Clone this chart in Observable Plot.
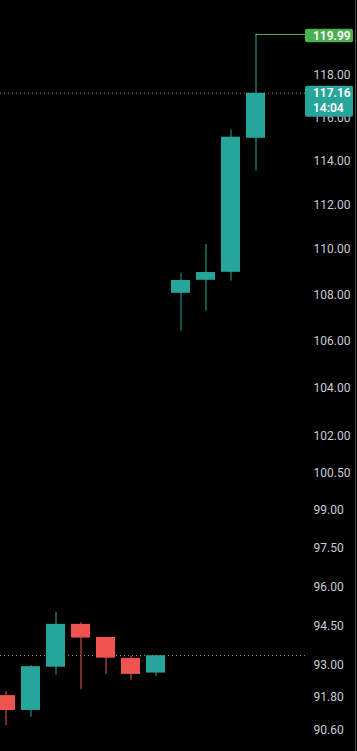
<!DOCTYPE html>
<html><head><meta charset="utf-8">
<script src="https://cdn.jsdelivr.net/npm/d3@7"></script>
<script src="https://cdn.jsdelivr.net/npm/@observablehq/plot@0.6"></script>
<style>
html,body{margin:0;padding:0;background:#000;}
#chart{width:357px;height:751px;overflow:hidden;background:#000;}
</style>
</head><body><div id="chart"></div>
<script>
// Candle data (bar index, OHLC)
const barIndex = [0, 1, 2, 3, 4, 5, 6, 7, 8, 9, 10];
const opens  = [91.87, 91.32, 92.93, 94.55, 94.05, 93.26, 92.71, 108.07, 108.64, 108.99, 115.05];
const highs  = [92.02, 92.99, 95.01, 94.62, 94.05, 93.34, 93.37, 108.95, 110.22, 115.44, 119.99];
const lows   = [90.76, 91.07, 92.62, 92.09, 92.66, 92.44, 92.58, 106.43, 107.29, 108.60, 113.53];
const closes = [91.32, 92.95, 94.55, 94.03, 93.27, 92.66, 93.36, 108.63, 108.98, 115.10, 117.16];
const yTicks = [90.6, 91.8, 93, 94.5, 96, 97.5, 99, 100.5, 102, 104, 106, 108, 110, 112, 114, 116, 118];
const lastPrice = 117.16;
const countdown = "14:04";
const sessionHigh = 119.99;
const prevClose = 93.37;

const UP = "#26a69a", DOWN = "#ef5350";
const candles = barIndex.map((i, k) => ({
  i, open: opens[k], high: highs[k], low: lows[k], close: closes[k],
  color: closes[k] >= opens[k] ? UP : DOWN
}));

const chart = Plot.plot({
  width: 357, height: 751,
  marginTop: 0, marginBottom: 0, marginLeft: 0, marginRight: 52,
  style: {background: "#000", color: "#d1d4dc", fontFamily: "Roboto, sans-serif", fontSize: "12px"},
  x: {domain: [0, 10], range: [5.5, 255.5], axis: null},
  y: {type: "log", domain: [89.82, 121.63], range: [751, 0], axis: null, label: null},
  color: {type: "identity"},
  marks: [
    Plot.ruleY([prevClose], {stroke: "#8c8c8c", strokeDasharray: "1,3"}),
    Plot.ruleY([lastPrice], {stroke: "#8c8c8c", strokeDasharray: "1,3"}),
    Plot.ruleX(candles, {x: "i", y1: "low", y2: "high", stroke: "color"}),
    Plot.rect(candles, {x1: d => d.i - 0.38, x2: d => d.i + 0.38, y1: "open", y2: "close", fill: "color"}),
    Plot.axisY(yTicks, {anchor: "right", tickSize: 0, tickPadding: 8, label: null, textAnchor: "start",
      tickFormat: d => d.toFixed(2), fill: "#c9ccd3", fontSize: 12})
  ]
});

// Overlays positioned with Plot's own scales
const xs = chart.scale("x");
const y = chart.scale("y");
const svg = d3.select(chart);
const boxX = 305, boxW = 48;
const yh = y.apply(sessionHigh);
// session-high marker line from last candle to the price scale
svg.append("line").attr("x1", xs.apply(barIndex[barIndex.length - 1])).attr("x2", boxX)
  .attr("y1", Math.round(yh) + 0.5).attr("y2", Math.round(yh) + 0.5).attr("stroke", "#5fa86a");
const g = svg.append("g").attr("font-family", "Roboto, sans-serif").attr("font-size", 12)
  .attr("font-weight", 600).attr("text-anchor", "start");
g.append("rect").attr("x", boxX).attr("y", yh - 5).attr("width", boxW).attr("height", 13.5).attr("rx", 2).attr("fill", "#4caf50");
g.append("text").attr("x", boxX + 8).attr("y", yh + 1.8).attr("dy", "0.35em").attr("fill", "#fff").text(sessionHigh.toFixed(2));
const yl = y.apply(lastPrice);
g.append("rect").attr("x", boxX).attr("y", yl - 7).attr("width", boxW).attr("height", 31).attr("rx", 2).attr("fill", UP);
g.append("text").attr("x", boxX + 8).attr("y", yl + 0.5).attr("dy", "0.35em").attr("fill", "#fff").text(lastPrice.toFixed(2));
g.append("text").attr("x", boxX + 8).attr("y", yl + 15.5).attr("dy", "0.35em").attr("fill", "#fff").text(countdown);
svg.append("line").attr("x1", 355.5).attr("x2", 355.5).attr("y1", 0).attr("y2", 751).attr("stroke", "#4a4a4a");

document.getElementById("chart").appendChild(chart);
</script>
</body></html>
